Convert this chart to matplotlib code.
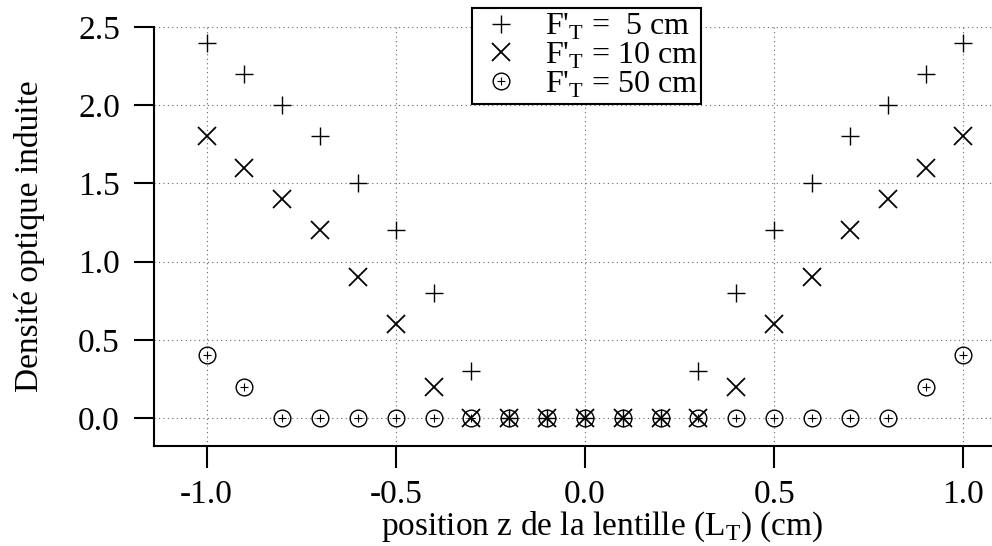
import numpy as np
import matplotlib
matplotlib.use("Agg")
from matplotlib import pyplot as plt

# données
z = [-1.0, -0.9, -0.8, -0.7, -0.6, -0.5, -0.4, -0.3, -0.2, -0.1, 0.0,
     0.1, 0.2, 0.3, 0.4, 0.5, 0.6, 0.7, 0.8, 0.9, 1.0]
do_5cm = [2.4, 2.2, 2.0, 1.8, 1.5, 1.2, 0.8, 0.3, 0.0, 0.0, 0.0,
          0.0, 0.0, 0.3, 0.8, 1.2, 1.5, 1.8, 2.0, 2.2, 2.4]
do_10cm = [1.8, 1.6, 1.4, 1.2, 0.9, 0.6, 0.2, 0.0, 0.0, 0.0, 0.0,
           0.0, 0.0, 0.0, 0.2, 0.6, 0.9, 1.2, 1.4, 1.6, 1.8]
do_50cm = [0.4, 0.2, 0.0, 0.0, 0.0, 0.0, 0.0, 0.0, 0.0, 0.0, 0.0,
           0.0, 0.0, 0.0, 0.0, 0.0, 0.0, 0.0, 0.0, 0.2, 0.4]
labels = [r"F'$_\mathrm{T}$ =  5 cm", r"F'$_\mathrm{T}$ = 10 cm", r"F'$_\mathrm{T}$ = 50 cm"]
xticks = [-1.0, -0.5, 0.0, 0.5, 1.0]
yticks = [0.0, 0.5, 1.0, 1.5, 2.0, 2.5]

plt.rcParams['font.family'] = ['Liberation Serif', 'DejaVu Serif']
plt.rcParams['mathtext.fontset'] = 'custom'
plt.rcParams['mathtext.rm'] = 'Liberation Serif'
plt.rcParams['font.size'] = 24

fig = plt.figure(figsize=(9.92, 5.46), dpi=100)
ax = fig.add_axes([154 / 992, 100 / 546, 896 / 992, 419 / 546])

h1, = ax.plot(z, do_5cm, ls='none', marker='+', ms=12.5, mew=1.0, color='black', clip_on=False, zorder=3)
h2, = ax.plot(z, do_10cm, ls='none', marker='x', ms=13.5, mew=1.3, color='black', clip_on=False, zorder=3)
h3, = ax.plot(z, do_50cm, ls='none', marker='o', ms=12, mew=1.0, mfc='none', color='black', clip_on=False, zorder=3)
h3b, = ax.plot(z, do_50cm, ls='none', marker='+', ms=5.5, mew=0.8, color='black', clip_on=False, zorder=3)

ax.set_xlim(-1.139, 1.229)
ax.set_ylim(-0.179, 2.5)
ax.set_xticks(xticks)
ax.set_yticks(yticks)
ax.set_xticklabels(['%.1f' % t for t in xticks])
ax.set_yticklabels(['%.1f' % t for t in yticks])
ax.spines['top'].set_visible(False)
ax.spines['right'].set_visible(False)
ax.spines['left'].set_linewidth(1.5)
ax.spines['bottom'].set_linewidth(1.5)
ax.tick_params(axis='x', direction='out', length=16, width=1.5, pad=8)
ax.tick_params(axis='y', direction='out', length=14.5, width=1.5, pad=10)
ax.grid(True, ls=(0, (1, 3)), color='#666666', lw=0.8)
ax.set_axisbelow(True)

ax.set_xlabel("position z de la lentille (L$_\\mathrm{T}$) (cm)", labelpad=0)
ax.set_ylabel("Densité optique induite", labelpad=24)

leg = fig.legend([h1, h2, (h3, h3b)], labels, loc='upper left', fontsize=23,
                 bbox_to_anchor=(472 / 992, 1 - 8 / 546), frameon=True, fancybox=False,
                 edgecolor='black', framealpha=1, borderpad=0.12, labelspacing=-0.05,
                 handlelength=1.6, handletextpad=0.55, borderaxespad=0)
leg.get_frame().set_linewidth(1.5)

fig.savefig('out.png', dpi=100)
